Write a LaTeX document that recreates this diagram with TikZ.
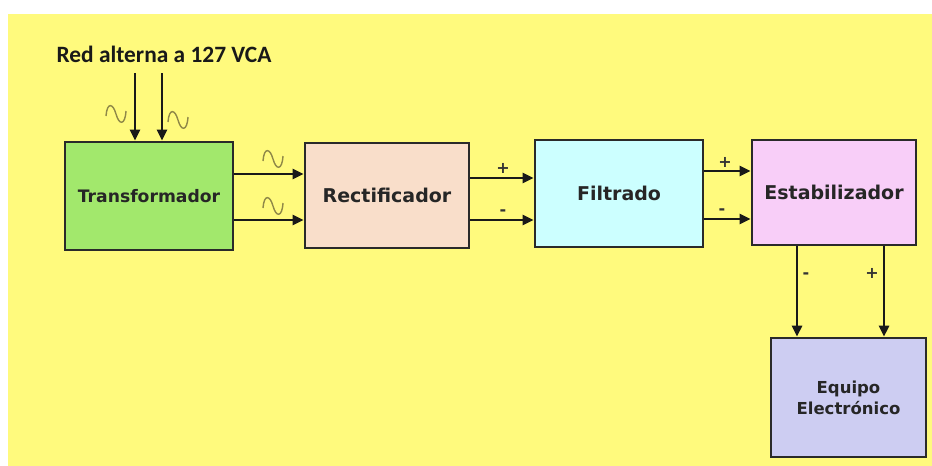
\documentclass[tikz,border=0pt]{standalone}
\usepackage{fontspec}
\setmainfont{DejaVu Sans}
\newfontfamily\titlefont{Carlito}
\usetikzlibrary{arrows.meta}
\definecolor{bgyellow}{HTML}{FFFA7D}
\definecolor{cgreen}{HTML}{A2E86C}
\definecolor{cpeach}{HTML}{F9DECA}
\definecolor{ccyan}{HTML}{CCFFFF}
\definecolor{cpink}{HTML}{F8CEF8}
\definecolor{clav}{HTML}{CDCDF2}
\definecolor{cedge}{HTML}{2A2A2A}
\definecolor{colive}{HTML}{8F8848}
\tikzset{
  blk/.style={draw=cedge, line width=2.6pt, inner sep=0pt, align=center,
    font=\bfseries\fontsize{19}{22}\selectfont, text=black!85},
  arr/.style={line width=2.5pt, draw=black!90, -{Triangle[length=11pt,width=10pt]}},
  sgn/.style={font=\bfseries\fontsize{16}{16}\selectfont, text=black!80, inner sep=0pt},
  tld/.style={draw=colive, line width=1.4pt},
  pics/tilde/.style={code={\draw[tld] (-10,2) .. controls (-9,-12) and (-3,-11) .. (0,0) .. controls (3,11) and (9,12) .. (10,-3);}}
}
\begin{document}
\begin{tikzpicture}[x=1pt,y=-1pt]
\useasboundingbox (0,0) rectangle (932,466);
\fill[white] (0,0) rectangle (932,466);
\fill[bgyellow] (8,14) rectangle (932,466);

\node[blk, fill=cgreen, minimum width=168pt, minimum height=108pt, font=\bfseries\fontsize{17.2}{20}\selectfont] (trans) at (149,196) {Transformador};
\node[blk, fill=cpeach, minimum width=164pt, minimum height=105pt] (rect) at (387,195.5) {Rectificador};
\node[blk, fill=ccyan, minimum width=168pt, minimum height=107pt] (filt) at (619,193.5) {Filtrado};
\node[blk, fill=cpink, minimum width=164pt, minimum height=105pt] (stab) at (834,192.5) {Estabilizador};
\node[blk, fill=clav, minimum width=155pt, minimum height=119pt, font=\bfseries\fontsize{16.5}{21}\selectfont] (equip) at (848.5,397.5) {Equipo\\Electrónico};

\node[font=\titlefont\bfseries\fontsize{23.4}{26}\selectfont, text=black!90, inner sep=0pt] (title) at (164,54) {Red alterna a 127 VCA};

\coordinate (in1) at (135,73);
\coordinate (in2) at (162,73);
\draw[arr] (in1) -- (trans.north -| in1);
\draw[arr] (in2) -- (trans.north -| in2);
\pic at (116,114) {tilde};
\pic at (178,120) {tilde};

\draw[arr] (trans.east |- 0,174) -- (rect.west |- 0,174);
\draw[arr] (trans.east |- 0,220) -- (rect.west |- 0,220);
\pic at (273,159) {tilde};
\pic at (273,206) {tilde};

\draw[arr] (rect.east |- 0,178) -- (filt.west |- 0,178);
\draw[arr] (rect.east |- 0,220) -- (filt.west |- 0,220);
\node[sgn] (p1) at (503,168) {+};
\node[sgn] (m1) at (503,213) {-};

\draw[arr] (filt.east |- 0,171) -- (stab.west |- 0,171);
\draw[arr] (filt.east |- 0,219) -- (stab.west |- 0,219);
\node[sgn] (p2) at (725,162) {+};
\node[sgn] (m2) at (722,212) {-};

\draw[arr] (stab.south -| 797,0) -- (equip.north -| 797,0);
\draw[arr] (stab.south -| 884,0) -- (equip.north -| 884,0);
\node[sgn] (m3) at (806,276) {-};
\node[sgn] (p3) at (872,273) {+};
\end{tikzpicture}
\end{document}
